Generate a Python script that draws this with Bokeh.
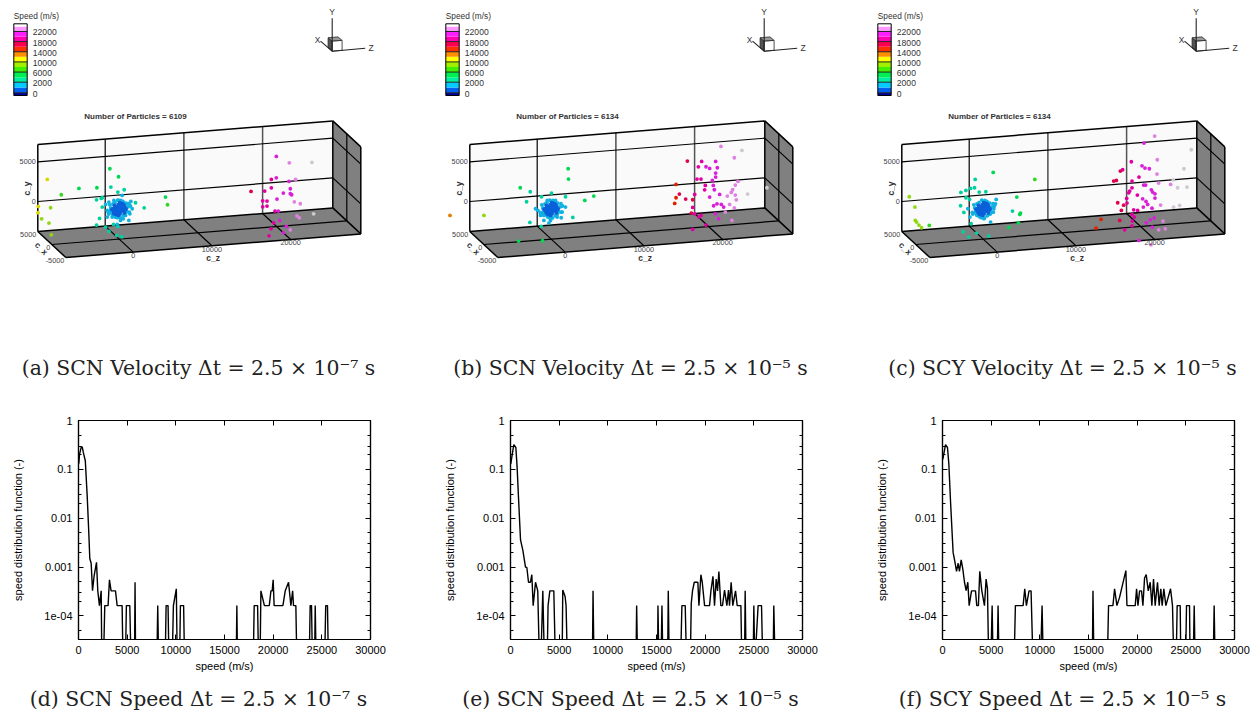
import numpy as np
from bokeh.plotting import figure
from bokeh.layouts import column, row
from bokeh.embed import file_html
from bokeh.resources import INLINE
from bokeh.core.properties import value
from bokeh.models import (Range1d, FixedTicker, LinearAxis, LogAxis,
                          CustomJSTickFormatter)

# ---------- speed histograms ----------
speed_d = [30,100,300,400,500,700,900,1060,1160,1300,1440,1600,1850,1980,2150,2330,2400,2560,2700,3040,3180,3350,3800,3970,4480,4580,4820,4920,5270,5400,5750,5810,5870,8050,8140,8240,8900,9000,9200,9300,9620,9750,10050,10150,10380,10470,10800,10900,16200,16270,16340,17950,18050,18400,18500,18650,18740,19100,19600,19770,19900,20000,20100,21000,21240,21580,21820,22000,22090,22330,22440,23700,23800,23940,24040,24250,24320,24420,25280,25400,25580,25680,30000]
f_d = [0.13,0.2,0.295,0.28,0.22,0.15,0.027,0.0049,0.0015,0.0012,3.3e-4,6.5e-4,1.25e-3,3.3e-4,1.63e-4,3.27e-4,1e-5,1e-5,1.63e-4,1.63e-4,5.5e-4,3.27e-4,3.27e-4,1.63e-4,1.63e-4,1e-5,1e-5,1.63e-4,1.63e-4,1e-5,1e-5,4.9e-4,1e-5,1e-5,1.63e-4,1e-5,1e-5,1.63e-4,1.63e-4,1e-5,1e-5,1.63e-4,3.6e-4,1e-5,1e-5,1.63e-4,1.63e-4,1e-5,1e-5,1.63e-4,1e-5,1e-5,1.63e-4,1.63e-4,1e-5,1e-5,3.27e-4,1.63e-4,1.63e-4,3.27e-4,3.27e-4,5.5e-4,1.63e-4,1.63e-4,3.27e-4,4.9e-4,1.63e-4,3.27e-4,1.63e-4,1.63e-4,1e-5,1e-5,1.63e-4,1.63e-4,1e-5,1e-5,1.63e-4,1e-5,1e-5,1.63e-4,1.63e-4,1e-5,1e-5]

speed_e = [30,140,340,550,680,820,1030,1270,1540,1680,1850,2050,2190,2330,2570,2800,2980,3110,3320,3490,3760,3860,4040,4450,4620,5300,5370,5610,5710,5850,8410,8480,8580,12890,12960,13060,15110,15150,15250,15460,15560,15660,16140,16210,16310,17470,17610,17950,18090,18470,18570,18700,18880,19250,19360,19560,19700,19940,20450,20590,20800,20960,21130,21270,21410,21610,21780,21990,22230,22400,22500,22670,22840,23120,23290,23670,23770,24040,24110,24210,24930,25000,25100,25440,25790,25920,26980,27050,27190,30000]
f_e = [0.13,0.18,0.32,0.28,0.11,0.027,0.0036,0.0022,0.001,0.00098,4.9e-4,4.9e-4,7e-4,1.63e-4,4.9e-4,3.27e-4,1e-5,1e-5,3.27e-4,1e-5,1e-5,1.63e-4,3.27e-4,3.27e-4,1e-5,1e-5,3.4e-4,2.5e-4,1.63e-4,1e-5,1e-5,3.27e-4,1e-5,1e-5,1.63e-4,1e-5,1e-5,1.63e-4,1e-5,1e-5,1.63e-4,1e-5,1e-5,3.27e-4,1e-5,1e-5,1.63e-4,1.63e-4,1e-5,1e-5,1.8e-4,3.27e-4,4.9e-4,4.9e-4,1.63e-4,7e-4,4.9e-4,1.63e-4,1.63e-4,3.27e-4,6.5e-4,1.63e-4,5.7e-4,3.27e-4,8.15e-4,1.63e-4,1.63e-4,3.4e-4,1.63e-4,3.4e-4,1.63e-4,4.9e-4,1.63e-4,3.27e-4,1.63e-4,1.63e-4,1e-5,1e-5,3.27e-4,1e-5,1e-5,1.63e-4,1e-5,1.63e-4,1.63e-4,1e-5,1e-5,1.63e-4,1e-5,1e-5]

speed_f = [30,140,310,510,650,820,1090,1270,1440,1610,1740,1920,2090,2260,2430,2600,2740,2980,3390,3520,3690,3830,4040,4310,4480,4620,4750,4960,5100,5200,5610,5710,5810,7350,7490,8280,8450,8620,8890,9100,9300,10060,10230,10360,15390,15460,15560,16930,17060,17510,17680,17920,18190,18840,18950,19800,19940,20080,20250,20450,20590,20760,20930,21140,21340,21510,21680,21850,22090,22260,22430,22570,22740,22950,23430,23630,23770,24000,24110,24420,24490,24970,25070,25380,25440,25750,25860,25960,27810,27910,28010,30000]
f_f = [0.16,0.21,0.32,0.28,0.13,0.023,0.002,0.0013,8.2e-4,0.0012,8.2e-4,0.0014,9e-4,4.9e-4,3.3e-4,4.9e-4,1.63e-4,3.27e-4,3.27e-4,1.63e-4,1.63e-4,8.2e-4,3.27e-4,1.63e-4,5.7e-4,3.6e-4,1e-5,1e-5,1.63e-4,1e-5,1e-5,1.63e-4,1e-5,1e-5,1.63e-4,1.63e-4,3.6e-4,1.63e-4,3.27e-4,3.27e-4,1e-5,1e-5,1.63e-4,1e-5,1e-5,3.27e-4,1e-5,1e-5,1.63e-4,1.63e-4,3.6e-4,1.63e-4,2.4e-4,8.5e-4,1.63e-4,1.63e-4,3.6e-4,1.63e-4,3.27e-4,3.27e-4,1.63e-4,6e-4,7e-4,3.27e-4,4.9e-4,1.63e-4,5.7e-4,1.63e-4,4.9e-4,1.63e-4,3.6e-4,1.63e-4,3.6e-4,1.63e-4,3.6e-4,1.63e-4,1e-5,1e-5,1.63e-4,1.63e-4,1e-5,1e-5,1.63e-4,1.63e-4,1e-5,1e-5,1.63e-4,1e-5,1e-5,1.63e-4,1e-5,1e-5]

# ---------- particle velocities (c_z, c_y) ----------
core_z = [40,320,-280,610,-590,880,-930,-60,90,20,-30,310,-320,280,-290,590,-610,640,-570,1120,-1080,990,-1020,830,-790,770,-840,480,-530,520,-470,210,-180,170,-230,1240,-1190,1290,-1330,1430,-1380,150,-120,430,-440,700,-690,160,-150,420,-410,60,-70,450,-460,750,-740,520,-530,280,-270,810,-820,120,-130]
core_y = [-20,30,-40,10,40,-30,20,310,-280,620,-590,330,290,-270,-320,480,510,-530,-470,190,230,-410,-380,690,720,-710,-660,920,870,-880,-930,1090,1130,-1120,-1060,590,630,-490,-520,280,-310,150,-170,-140,160,280,-260,470,-460,170,-190,800,-790,640,-620,-180,130,-290,260,690,-680,-60,70,-610,580]

a_z = [19966,21615,24490,-9137,-5118,-7360,-2834,-1184,-85,-1058,635,-170,-2876,-2284,-2157,5880,6134,3172,2073,1480,-8714,-10280,-10320,-9856,-8925,-8630,-2496,-2876,-1734,-1311,-296,338,-719,-254,-170,1227,508,170,-465,-1523,-888,-2157,-1523,-1734,-1311,-677,-42,381,1015,1650,1354,804,-677,-1100,19331,19966,21573,22419,19331,21742,18485,20854,21742,21911,20050,18231,18781,22250,23011,18231,18781,19796,20219,16751,19627,20389,19289,21235,21742,20854,19035,22588,22884,24703]
a_y = [5050,4120,3935,4465,3010,2390,2915,5175,4080,2856,2385,2155,1400,1525,1600,1045,60,-85,635,850,860,1150,357,-437,-1054,-2550,-979,-1790,-2130,-2710,-3293,-3511,-1873,-1911,-2171,-1525,-1260,-1441,-970,-886,-937,424,-46,727,987,1147,1092,1692,592,-88,-697,-861,-533,-80,2201,2360,1772,1957,1151,836,798,361,206,67,-332,-399,-483,-844,-1155,-1155,-1113,-1823,-1856,895,-3280,-3049,-4011,-3872,-4330,-4637,-4872,-2633,-2911,-2549]

b_z = [21573,23265,24238,17301,19120,20896,18697,19670,20135,21108,20896,20896,18527,19035,20473,15863,16286,15863,15693,19585,20600,20727,19500,21404,23730,23392,23054,22884,24957,23392,23519,22377,17089,17978,18231,20135,20642,21065,21615,21911,22673,23265,22123,17978,17808,18231,19035,18781,20854,21277,22969,17978,19670,27410,-12859,-8545,-3934,-2665,-3130,-2707,-4145,-1100,-1269,2157,2200,42,-1227,1819,4272,5414,2750,1269,550,-508,761,-85,-1354,-1692,-1988,1819,1396,-931,-296,-931]
b_y = [6182,4620,5468,4675,4486,4347,3847,3772,3524,3532,2877,2373,2310,2268,1987,1848,596,168,-533,1428,1344,790,886,147,1600,1168,605,281,-92,-92,-693,-139,-97,-252,399,-88,-1218,-1000,-1130,-1487,-1214,-1680,-2134,-1218,-1919,-2037,-2310,-2499,-2243,-2906,-3251,-3990,-3578,512,223,-118,2999,2394,1172,-1466,-3704,-3902,-2083,4910,3604,2016,1650,1411,752,1210,-1268,-1193,1050,1134,-1067,-1428,-689,-34,202,109,-487,-1352,-1739,-722]

c_z = [21785,20431,26438,18824,20177,20558,21108,22123,22081,22292,17428,17724,16582,16920,18908,19796,20389,20642,18908,18612,18485,21362,21531,21827,21827,19585,18231,20262,20685,20346,20896,18274,17851,17089,17555,19120,19627,21446,22546,24153,23815,25507,24703,25888,24196,24957,18908,19204,18950,17343,14974,14340,18908,17978,20727,21235,21742,21488,22292,23138,22842,19796,21319,-9391,-8672,-8629,-8460,-8164,-7826,-6853,1269,-1015,6557,-2834,-2200,-1607,-1100,-508,338,-2200,-1734,4272,1650,-2876,-2453,-1946,-1692,-1523,-761,85,931,3722,4738,4653,4484,3257,677,-846,-1819,-2538,1354,1565,931]
c_y = [7468,6695,5376,4469,3856,3532,3406,4460,2654,1504,3402,3549,2209,2268,2024,2461,1403,1386,1184,790,588,739,433,197,-349,210,-105,-307,-676,-1365,-1071,-697,-916,-559,-1562,-1604,-1726,-1579,-1285,1777,1218,3058,727,714,-1672,-1520,-2176,-2533,-3016,-2806,-2491,-3532,-3604,-4032,-3368,-3032,-2818,-3973,-4376,-4318,-3326,-5519,-6187,2302,941,-743,-966,-1369,-1730,-1512,4519,3818,3217,2327,2528,2730,2776,2184,2159,1604,1357,1172,1088,647,-227,197,-874,-1726,-739,-1218,-1714,-546,-882,-1042,-2079,-2570,-3457,-2957,-3385,-2654,-67,546,-664]

# ---------- colour scale ----------
legend_levels = [-400,0,1000,2000,4000,6000,8000,10000,12000,14000,16000,18000,20000,22000,24000,25000]
legend_colors = ["#0000a0","#0060f0","#00ccff","#00f0a0","#00f050","#40f000","#a0f000","#ffff00","#ff9000","#ff3000","#ff0050","#ff00b0","#ff20ff","#ff99ff","#ffffff"]
particle_colors = ["#0000a0","#0a60d8","#10b0e0","#00d0a0","#00d850","#30d820","#90d810","#d8d800","#e08000","#e02000","#e00050","#e000a0","#d820d8","#e080e0","#d0c8d0"]
legend_ticks = [22000,18000,14000,10000,6000,2000,0]
wall_z_ticks = [0,10000,20000]
wall_y_ticks = [0,5000]
floor_x_ticks = [5000,0,-5000]

FONT = value("Liberation Sans")
SERIF = value("DejaVu Serif")
Z0, Z1, Y0, Y1, X0, X1 = -8564, 28920, -3778, 7178, 5000, -5000


def project(cz, cy, cx):
    cz, cy, cx = np.asarray(cz, float), np.asarray(cy, float), np.asarray(cx, float)
    return (96.7 + 0.00787 * cz + 0.0028 * (5000 - cx),
            187.6 - 0.00794 * cy - 0.00063 * cz + 0.0026 * (5000 - cx))


def seg(p, a, b, color="black", width=1.2):
    xs, ys = project(*zip(a, b))
    p.line(xs, ys, line_color=color, line_width=width)


def patch3d(p, pts, color):
    xs, ys = project(*zip(*pts))
    p.patch(xs, ys, fill_color=color, line_color=None)


def label(p, x, y, t, size, color="#333333", align="center", style="normal", angle=0.0, font=FONT):
    p.text([x], [y], text=[t], text_font=font, text_font_size=size, text_color=color,
           text_align=align, text_baseline="middle", text_font_style=style, angle=angle)


def velocity_panel(width, title, caption, z, y):
    p = figure(width=width, height=387, x_range=Range1d(0, width), y_range=Range1d(387, 0),
               output_backend="svg", toolbar_location=None, min_border=0,
               x_axis_type=None, y_axis_type=None)
    p.grid.visible = False
    p.outline_line_color = None

    # colour legend
    label(p, 5.3, 7, "Speed (m/s)", "8.3px", align="left")
    pos = np.interp(legend_levels, [0, 2000, 24000], [84.3, 73.7, 17.9])
    pos[0], pos[-1] = 87, 15.3
    p.quad(left=5.3, right=18.7, top=pos[1:], bottom=pos[:-1], fill_color=legend_colors, line_color=None)
    tick_pos = np.interp(legend_ticks, [0, 2000, 24000], [84.3, 73.7, 17.9])
    p.segment(x0=5.3, x1=18.7, y0=tick_pos, y1=tick_pos, line_color="#222222", line_width=1)
    p.quad(left=[5.3], right=[18.7], top=[15.3], bottom=[87], fill_color=None, line_color="black", line_width=1)
    for t, yy in zip(legend_ticks, tick_pos):
        label(p, 24.3, yy + 1, str(t), "8.6px", align="left")

    # orientation triad
    ox, oy = 323.7, 42.7

    def tri(tz, ty, tx):
        return ox + 33 * tz - 11.7 * tx, oy - 3 * tz - 33 * ty - 10 * tx
    cube = [((0, 0, 0), (0, 0, .35), (0, .3, .35), (0, .3, 0), "#555555"),
            ((0, .3, 0), (0, .3, .35), (.3, .3, .35), (.3, .3, 0), "#999999"),
            ((0, 0, 0), (.3, 0, 0), (.3, .3, 0), (0, .3, 0), "white")]
    for a, b, c, d, col in cube:
        xs, ys = zip(*[tri(*q) for q in (a, b, c, d)])
        p.patch(xs, ys, fill_color=col, line_color="#222222", line_width=0.8)
    for end, name, off in [((1, 0, 0), "Z", (6, 0)), ((0, 1, 0), "Y", (0, -6)), ((0, 0, 1), "X", (-3, -1))]:
        ex, ey = tri(*end)
        p.line([ox, ex], [oy, ey], line_color="#222222", line_width=1.1)
        label(p, ex + off[0], ey + off[1], name, "8.5px")

    label(p, 127, 108, title, "8px", style="bold")

    # box faces
    patch3d(p, [(Z0, Y0, X0), (Z1, Y0, X0), (Z1, Y1, X0), (Z0, Y1, X0)], "#fafafa")
    patch3d(p, [(Z1, Y0, X0), (Z1, Y0, X1), (Z1, Y1, X1), (Z1, Y1, X0)], "#808080")
    patch3d(p, [(Z0, Y0, X0), (Z1, Y0, X0), (Z1, Y0, X1), (Z0, Y0, X1)], "#808080")

    for t, col, w in zip(wall_z_ticks, ["black", "#333333", "#555555"], [1.2, 1.3, 1.5]):
        seg(p, (t, Y0, X0), (t, Y1, X0), color=col, width=w)
        seg(p, (t, Y0, X0), (t, Y0, X1))
    for t in wall_y_ticks:
        seg(p, (Z0, t, X0), (Z1, t, X0))
        seg(p, (Z1, t, X0), (Z1, t, X1))
    seg(p, (Z0, Y0, 0), (Z1, Y0, 0))
    seg(p, (Z1, Y0, 0), (Z1, Y1, 0))
    for a, b in [((Z0, Y1, X0), (Z1, Y1, X0)), ((Z0, Y0, X0), (Z1, Y0, X0)), ((Z0, Y0, X0), (Z0, Y1, X0)),
                 ((Z1, Y0, X0), (Z1, Y1, X0)), ((Z1, Y1, X0), (Z1, Y1, X1)), ((Z1, Y1, X1), (Z1, Y0, X1)),
                 ((Z1, Y0, X1), (Z0, Y0, X1)), ((Z0, Y0, X1), (Z0, Y0, X0)), ((Z1, Y0, X0), (Z1, Y0, X1))]:
        seg(p, a, b, width=1.5)

    # particles
    all_z = np.array(list(z) + core_z, float)
    all_y = np.array(list(y) + core_y, float)
    speed = np.hypot(all_z, all_y)
    order = np.argsort(-speed)
    band = np.clip(np.searchsorted(legend_levels, speed, side="right") - 1, 0, 14)
    px, py = project(all_z[order], all_y[order], np.zeros(len(order)))
    p.scatter(px, py, marker="circle", size=3.8, line_color=None,
              fill_color=[particle_colors[i] for i in band[order]])

    # tick labels
    for t in wall_z_ticks:
        xx, yy = project(t, Y0, X1)
        label(p, xx, yy + 3.5, str(t), "7.3px", color="#444444")
    for t in wall_y_ticks:
        xx, yy = project(Z0, t, X0)
        label(p, xx - 2, yy, str(t), "7.3px", color="#444444", align="right")
    for t in floor_x_ticks:
        xx, yy = project(Z0, Y0, t)
        label(p, xx - 1.5, yy + 3, str(t), "7.3px", color="#444444", align="right")
    label(p, 204.7, 249, "c_z", "8.5px", style="bold")
    label(p, 18, 180, "c_y", "8.5px", style="bold", angle=np.pi / 2)
    label(p, 33, 240, "c_x", "8.5px", style="bold", angle=-np.pi / 4)

    label(p, 190, 359, caption, "20.4px", color="#222222", font=SERIF)
    return p


def speed_panel(width, speed, f):
    p = figure(width=width, height=280, y_axis_type="log",
               x_range=Range1d(0, 30000), y_range=Range1d(3.3e-5, 1),
               output_backend="svg", toolbar_location=None,
               min_border_left=70, min_border_right=width - 362, min_border_top=25, min_border_bottom=36)
    p.grid.visible = False
    p.outline_line_color = "black"
    p.outline_line_width = 1.2
    p.line(speed, f, line_color="black", line_width=1.4)

    xt = FixedTicker(ticks=[0, 5000, 10000, 15000, 20000, 25000, 30000], minor_ticks=[])
    minors = [m * 10.0 ** e for e in range(-5, 0) for m in (2, 3, 5)]
    yt = FixedTicker(ticks=[1, 0.1, 0.01, 0.001, 0.0001], minor_ticks=minors)
    blank = CustomJSTickFormatter(code="return ''")
    ax_bottom, ax_left = p.below[0], p.left[0]
    ax_top = LinearAxis(ticker=xt, formatter=blank)
    ax_right = LogAxis(ticker=yt, formatter=blank)
    p.add_layout(ax_top, "above")
    p.add_layout(ax_right, "right")
    for ax in (ax_bottom, ax_left, ax_top, ax_right):
        ax.major_tick_in, ax.major_tick_out = 5, 0
        ax.minor_tick_in, ax.minor_tick_out = 3, 0
        ax.major_tick_line_color = ax.minor_tick_line_color = "black"
        ax.axis_line_color = "black"
        ax.axis_line_width = 1.2
        ax.major_label_text_font = "Liberation Sans"
        ax.major_label_text_font_size = "11px"
        ax.major_label_text_color = "black"
        ax.major_label_standoff = 6
        ax.axis_label_text_font = "Liberation Sans"
        ax.axis_label_text_font_size = "11px"
        ax.axis_label_text_font_style = "normal"
        ax.axis_label_text_color = "black"
    ax_bottom.ticker = xt
    ax_left.ticker = yt
    ax_left.major_label_overrides = {1: "1", 0.1: "0.1", 0.01: "0.01", 0.001: "0.001", 0.0001: "1e-04"}
    ax_bottom.axis_label = "speed (m/s)"
    ax_left.axis_label = "speed distribution function (-)"
    ax_bottom.axis_label_standoff = 3
    ax_left.axis_label_standoff = 17
    return p


def caption_panel(width, caption):
    p = figure(width=width, height=36, x_range=Range1d(0, width), y_range=Range1d(36, 0),
               output_backend="svg", toolbar_location=None, min_border=0,
               x_axis_type=None, y_axis_type=None)
    p.grid.visible = False
    p.outline_line_color = None
    label(p, 190, 23.5, caption, "20.4px", color="#222222", font=SERIF)
    return p


top = row(
    velocity_panel(432, "Number of Particles = 6109", "(a) SCN Velocity Δt = 2.5 × 10⁻⁷ s", a_z, a_y),
    velocity_panel(432, "Number of Particles = 6134", "(b) SCN Velocity Δt = 2.5 × 10⁻⁵ s", b_z, b_y),
    velocity_panel(380, "Number of Particles = 6134", "(c) SCY Velocity Δt = 2.5 × 10⁻⁵ s", c_z, c_y),
)
bottom = row(speed_panel(432, speed_d, f_d), speed_panel(432, speed_e, f_e), speed_panel(380, speed_f, f_f))
captions = row(
    caption_panel(432, "(d) SCN Speed Δt = 2.5 × 10⁻⁷ s"),
    caption_panel(432, "(e) SCN Speed Δt = 2.5 × 10⁻⁵ s"),
    caption_panel(380, "(f) SCY Speed Δt = 2.5 × 10⁻⁵ s"),
)
assert len(speed_d) == len(f_d) and len(speed_e) == len(f_e) and len(speed_f) == len(f_f)
assert len(a_z) == len(a_y) and len(b_z) == len(b_y) and len(c_z) == len(c_y)
open("out.html", "w").write(file_html(column(top, bottom, captions, spacing=0, margin=(8, 0, 0, 8)), INLINE))
